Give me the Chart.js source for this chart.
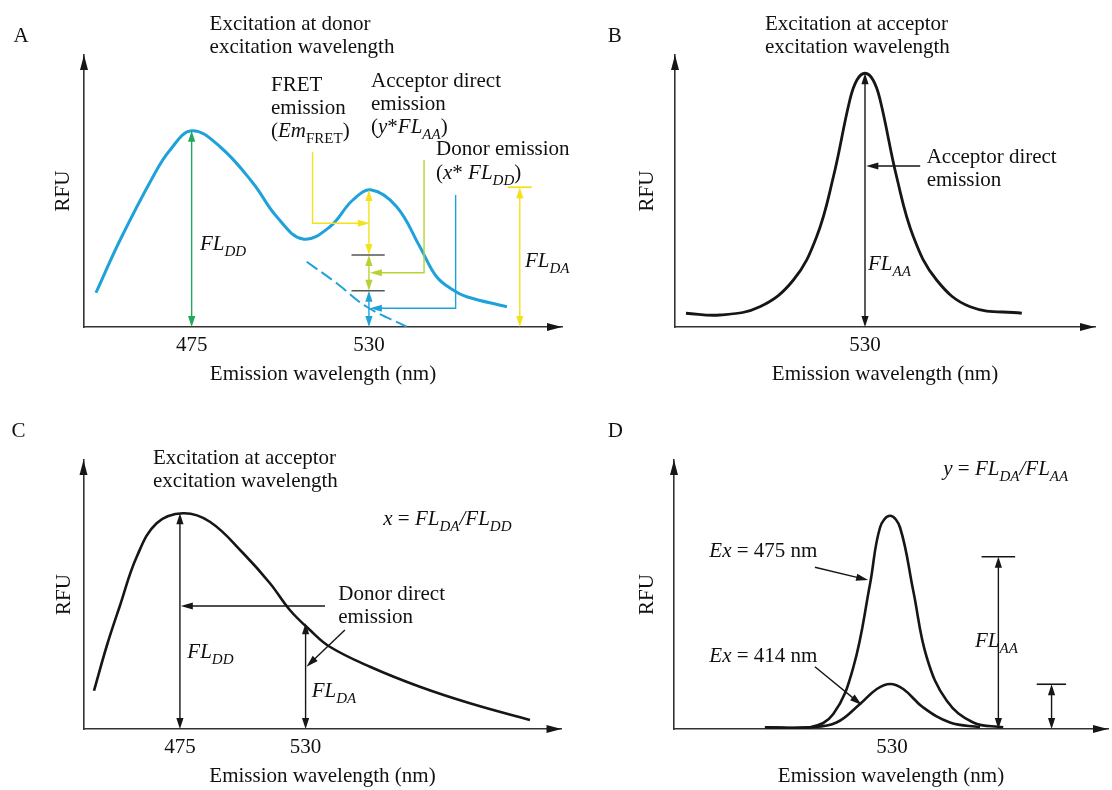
<!DOCTYPE html>
<html>
<head>
<meta charset="utf-8">
<script src="https://cdn.jsdelivr.net/npm/chart.js@4/dist/chart.umd.min.js"></script>
<style>
  html, body { margin: 0; padding: 0; background: #fff; }
  #wrap { position: relative; width: 1112px; height: 790px; overflow: hidden; }
  canvas { position: absolute; }
</style>
</head>
<body>
<div id="wrap">
  <canvas id="pA" width="580" height="395" style="left:0;top:0"></canvas>
  <canvas id="pB" width="532" height="395" style="left:580px;top:0"></canvas>
  <canvas id="pC" width="580" height="395" style="left:0;top:395px"></canvas>
  <canvas id="pD" width="532" height="395" style="left:580px;top:395px"></canvas>
</div>
<script>
// --- data (wavelength in nm, RFU in arbitrary units) ---
// A: donor excitation, measured spectrum + donor tail under the acceptor peak
const aWavelength = [445.3, 452.8, 463, 468.3, 475, 483.8, 494, 501.4, 509.5, 517.9, 525, 530.8, 538.6, 545.8, 551, 556.1, 560.3, 572.8];
const aRfu = [13.7, 34.8, 60.1, 70.8, 78.5, 72.1, 57.6, 44.1, 35.2, 40.1, 50.8, 54.8, 48.1, 32.1, 20.1, 14.8, 12.1, 8.1];
const aTailWavelength = [510.7, 520, 529.3, 541.7];
const aTailRfu = [26.1, 17.5, 8.1, 0.1];
const aTicks = [475, 530];

// B: acceptor excitation
const bWavelength = [474.5, 485, 497.4, 507.8, 515, 520.2, 525.3, 527.5, 530, 532.5, 534.7, 539.8, 545, 552.2, 562.6, 578.6];
const bRfu = [5.5, 4.8, 8.1, 18.8, 36.1, 60.1, 90.8, 98.8, 101.5, 98.8, 90.8, 60.1, 36.1, 18.8, 8.1, 5.5];
const bTicks = [530];

// C: donor only
const cWavelength = [437.4, 443.1, 448.7, 456.1, 464.8, 476.4, 488.1, 502.7, 514.4, 523.1, 531.9, 540.6, 558.2, 580, 601.9, 628.2];
const cRfu = [15.3, 33.6, 49.2, 68.9, 82.3, 86.3, 82.9, 70.3, 58.3, 47.6, 39.6, 32.9, 24.9, 16.9, 10.3, 3.6];
const cTicks = [475, 530];

// D: acceptor only, two excitation wavelengths
const dWavelength475 = [490.6, 504.6, 511.8, 518, 523.2, 526.3, 529.4, 532.5, 536.6, 540.8, 547, 555.2, 564.5];
const dEx475 = [0.7, 0.7, 6, 24.6, 58, 80.6, 85.3, 80.6, 55.3, 28.6, 11.3, 2.6, 0.7];
const dWavelength414 = [490.6, 504.6, 512.8, 520.1, 525.3, 529.4, 533.5, 539.7, 548, 557.3];
const dEx414 = [0.7, 0.7, 2.6, 10, 16, 18, 16, 8.6, 2.6, 0.7];
const dTicks = [530];

const SERIF = '"Liberation Serif", "Times New Roman", serif';
const BLUE = '#1ea2d9', YELLOW = '#f4e11d', LIME = '#b6d334', GREEN = '#21a85b', INK = '#161616', BAR = '#555';
const FONTS = {
  n: '21px ' + SERIF,
  i: 'italic 21px ' + SERIF,
  s: 'italic 15px ' + SERIF,
  S: '15px ' + SERIF
};

const pts = (xs, ys) => xs.map((x, i) => ({ x: x, y: ys[i] }));

function head(ctx, x, y, ang, color, len, half) {
  ctx.save();
  ctx.translate(x, y);
  ctx.rotate(ang);
  ctx.beginPath();
  ctx.moveTo(0, 0);
  ctx.lineTo(-len, -half);
  ctx.lineTo(-len, half);
  ctx.closePath();
  ctx.fillStyle = color;
  ctx.fill();
  ctx.restore();
}

function seg(ctx, p, color, w) {
  ctx.beginPath();
  p.forEach((q, i) => i ? ctx.lineTo(q[0], q[1]) : ctx.moveTo(q[0], q[1]));
  ctx.strokeStyle = color;
  ctx.lineWidth = w;
  ctx.stroke();
}

function dbl(ctx, x, yBot, yTop, color) {
  seg(ctx, [[x, yBot - 4], [x, yTop + 4]], color, 1.4);
  head(ctx, x, yTop, -Math.PI / 2, color, 11, 3.6);
  head(ctx, x, yBot, Math.PI / 2, color, 11, 3.6);
}

function arrowTo(ctx, p, color) {
  const a = p[p.length - 2], b = p[p.length - 1];
  const ang = Math.atan2(b[1] - a[1], b[0] - a[0]);
  const q = p.slice(0, -1).concat([[b[0] - 5 * Math.cos(ang), b[1] - 5 * Math.sin(ang)]]);
  seg(ctx, q, color, 1.4);
  head(ctx, b[0], b[1], ang, color, 12, 3.6);
}

function rich(ctx, x, y, parts) {
  if (typeof parts === 'string') parts = [[parts, 'n']];
  ctx.textAlign = 'left';
  ctx.textBaseline = 'alphabetic';
  ctx.fillStyle = '#111';
  parts.forEach(([t, st]) => {
    ctx.font = FONTS[st];
    ctx.fillText(t, x, y + (st === 's' || st === 'S' ? 6 : 0));
    x += ctx.measureText(t).width;
  });
}

const FL = sub => [['FL', 'i'], [sub, 's']];

// smooth spectral line
const curve = (data, color, width, extra) => Object.assign({
  data: data, borderColor: color, borderWidth: width,
  tension: 0.4, cubicInterpolationMode: 'default', pointRadius: 0, fill: false
}, extra || {});

const panels = [
  {
    id: 'pA', off: [0, 0], xMin: 441.6, xMax: 589.9, yMax: 108.8, ticks: aTicks,
    pad: { left: 44, top: 55, right: 18, bottom: 8 }, rfuPad: 7,
    datasets: [
      curve(pts(aWavelength, aRfu), BLUE, 3),
      curve(pts(aTailWavelength, aTailRfu), BLUE, 2, { borderDash: [13, 5] })
    ],
    text: [
      [13.5, 42, 'A'],
      [209.6, 30, 'Excitation at donor'],
      [209.6, 53, 'excitation wavelength'],
      [271, 91, 'FRET'],
      [271, 114, 'emission'],
      [271, 137, [['(', 'n'], ['Em', 'i'], ['FRET', 'S'], [')', 'n']]],
      [371, 87, 'Acceptor direct'],
      [371, 110, 'emission'],
      [371, 133, [['(', 'n'], ['y', 'i'], ['*', 'n'], ['FL', 'i'], ['AA', 's'], [')', 'n']]],
      [436, 155, 'Donor emission'],
      [436, 179, [['(', 'n'], ['x', 'i'], ['* ', 'n'], ['FL', 'i'], ['DD', 's'], [')', 'n']]],
      [200, 250, FL('DD')],
      [525, 267, FL('DA')]
    ],
    draw(ctx, X, Y) {
      dbl(ctx, X(475), Y(0), Y(78.5), GREEN);
      dbl(ctx, X(530), Y(28.8), Y(54.8), YELLOW);
      dbl(ctx, X(530), Y(14.5), Y(28.8), LIME);
      dbl(ctx, X(530), Y(0), Y(14.5), BLUE);
      seg(ctx, [[X(524.6), Y(28.8)], [X(534.9), Y(28.8)]], BAR, 1.6);
      seg(ctx, [[X(524.6), Y(14.5)], [X(534.9), Y(14.5)]], BAR, 1.6);
      arrowTo(ctx, [[X(512.5), Y(70.1)], [X(512.5), Y(41.5)], [X(530.3), Y(41.5)]], YELLOW);
      arrowTo(ctx, [[X(547.1), Y(66.8)], [X(547.1), Y(21.7)], [X(530.3), Y(21.7)]], LIME);
      arrowTo(ctx, [[X(556.9), Y(52.8)], [X(556.9), Y(7.5)], [X(530.3), Y(7.5)]], BLUE);
      dbl(ctx, X(576.8), Y(0), Y(55.9), YELLOW);
      seg(ctx, [[X(573.1), Y(55.9)], [X(580.5), Y(55.9)]], YELLOW, 1.8);
    }
  },
  {
    id: 'pB', off: [580, 0], xMin: 471.1, xMax: 601.3, yMax: 108.8, ticks: bTicks,
    pad: { left: 55, top: 55, right: 17, bottom: 8 }, rfuPad: 0,
    datasets: [
      curve(pts(bWavelength, bRfu), INK, 2.8)
    ],
    text: [
      [607.7, 42, 'B'],
      [765, 30, 'Excitation at acceptor'],
      [765, 53, 'excitation wavelength'],
      [926.7, 163, 'Acceptor direct'],
      [926.7, 186, 'emission'],
      [868, 270, FL('AA')]
    ],
    draw(ctx, X, Y) {
      dbl(ctx, X(530), Y(0), Y(101.5), INK);
      arrowTo(ctx, [[X(547.1), Y(64.4)], [X(530.4), Y(64.4)]], INK);
    }
  },
  {
    id: 'pC', off: [0, 395], xMin: 432.8, xMax: 642, yMax: 107.6, ticks: cTicks,
    pad: { left: 43.5, top: 65, right: 18.5, bottom: 1 }, rfuPad: 8,
    datasets: [
      curve(pts(cWavelength, cRfu), INK, 2.6)
    ],
    text: [
      [11.5, 437, 'C'],
      [153, 464, 'Excitation at acceptor'],
      [153, 487, 'excitation wavelength'],
      [383.3, 525, [['x', 'i'], [' = ', 'n'], ['FL', 'i'], ['DA', 's'], ['/', 'i'], ['FL', 'i'], ['DD', 's']]],
      [338.3, 600, 'Donor direct'],
      [338.3, 623, 'emission'],
      [187.3, 658, FL('DD')],
      [311.7, 697, FL('DA')]
    ],
    draw(ctx, X, Y) {
      dbl(ctx, X(475), Y(0), Y(86.3), INK);
      dbl(ctx, X(530), Y(0), Y(42.3), INK);
      arrowTo(ctx, [[X(538.5), Y(49.2)], [X(475.4), Y(49.2)]], INK);
      arrowTo(ctx, [[X(547.2), Y(39.6)], [X(530.4), Y(24.9)]], INK);
    }
  },
  {
    id: 'pD', off: [580, 395], xMin: 462.4, xMax: 597, yMax: 107.6, ticks: dTicks,
    pad: { left: 54, top: 65, right: 4, bottom: 1 }, rfuPad: 1,
    datasets: [
      curve(pts(dWavelength475, dEx475), INK, 2.6),
      curve(pts(dWavelength414, dEx414), INK, 2.6)
    ],
    text: [
      [607.7, 437, 'D'],
      [943.3, 475, [['y', 'i'], [' = ', 'n'], ['FL', 'i'], ['DA', 's'], ['/', 'i'], ['FL', 'i'], ['AA', 's']]],
      [709.3, 557, [['Ex', 'i'], [' = 475 nm', 'n']]],
      [709.3, 662, [['Ex', 'i'], [' = 414 nm', 'n']]],
      [975, 647, FL('AA')]
    ],
    draw(ctx, X, Y) {
      dbl(ctx, X(563), Y(0), Y(68.9), INK);
      seg(ctx, [[X(557.8), Y(68.9)], [X(568.2), Y(68.9)]], INK, 1.6);
      dbl(ctx, X(579.5), Y(0), Y(17.9), INK);
      seg(ctx, [[X(574.9), Y(17.9)], [X(584), Y(17.9)]], INK, 1.6);
      arrowTo(ctx, [[X(506.1), Y(64.7)], [X(522.6), Y(59.6)]], INK);
      arrowTo(ctx, [[X(506.1), Y(24.9)], [X(520.6), Y(9.6)]], INK);
    }
  }
];

panels.forEach(p => {
  const notes = {
    id: 'notes',
    afterDatasetsDraw(chart) {
      const ctx = chart.ctx, ca = chart.chartArea;
      const X = v => chart.scales.x.getPixelForValue(v);
      const Y = v => chart.scales.y.getPixelForValue(v);
      ctx.save();
      head(ctx, ca.left, ca.top, -Math.PI / 2, INK, 15, 4);
      head(ctx, ca.right, ca.bottom, 0, INK, 15, 4);
      p.draw(ctx, X, Y);
      p.text.forEach(t => rich(ctx, t[0] - p.off[0], t[1] - p.off[1], t[2]));
      ctx.restore();
    }
  };

  new Chart(document.getElementById(p.id), {
    type: 'line',
    data: { datasets: p.datasets },
    options: {
      responsive: false,
      animation: false,
      events: [],
      layout: { padding: p.pad },
      plugins: { legend: { display: false }, tooltip: { enabled: false } },
      scales: {
        x: {
          type: 'linear',
          min: p.xMin,
          max: p.xMax,
          afterBuildTicks: s => { s.ticks = p.ticks.map(v => ({ value: v })); },
          afterFit: s => { s.height = 60; },
          grid: { display: false, drawTicks: false },
          border: { color: '#333', width: 1.6 },
          ticks: {
            color: '#111', padding: 6, maxRotation: 0, autoSkip: false,
            font: { family: SERIF, size: 21 },
            callback: v => String(v)
          },
          title: {
            display: true, text: 'Emission wavelength (nm)', color: '#111', padding: 0,
            font: { family: SERIF, size: 21 }
          }
        },
        y: {
          min: 0,
          max: p.yMax,
          afterFit: s => { s.width = 40; },
          grid: { display: false, drawTicks: false },
          border: { color: '#333', width: 1.6 },
          ticks: { display: false },
          title: {
            display: true, text: 'RFU', color: '#111', padding: { top: p.rfuPad, bottom: 0 },
            font: { family: SERIF, size: 21 }
          }
        }
      }
    },
    plugins: [notes]
  });
});
</script>
</body>
</html>
